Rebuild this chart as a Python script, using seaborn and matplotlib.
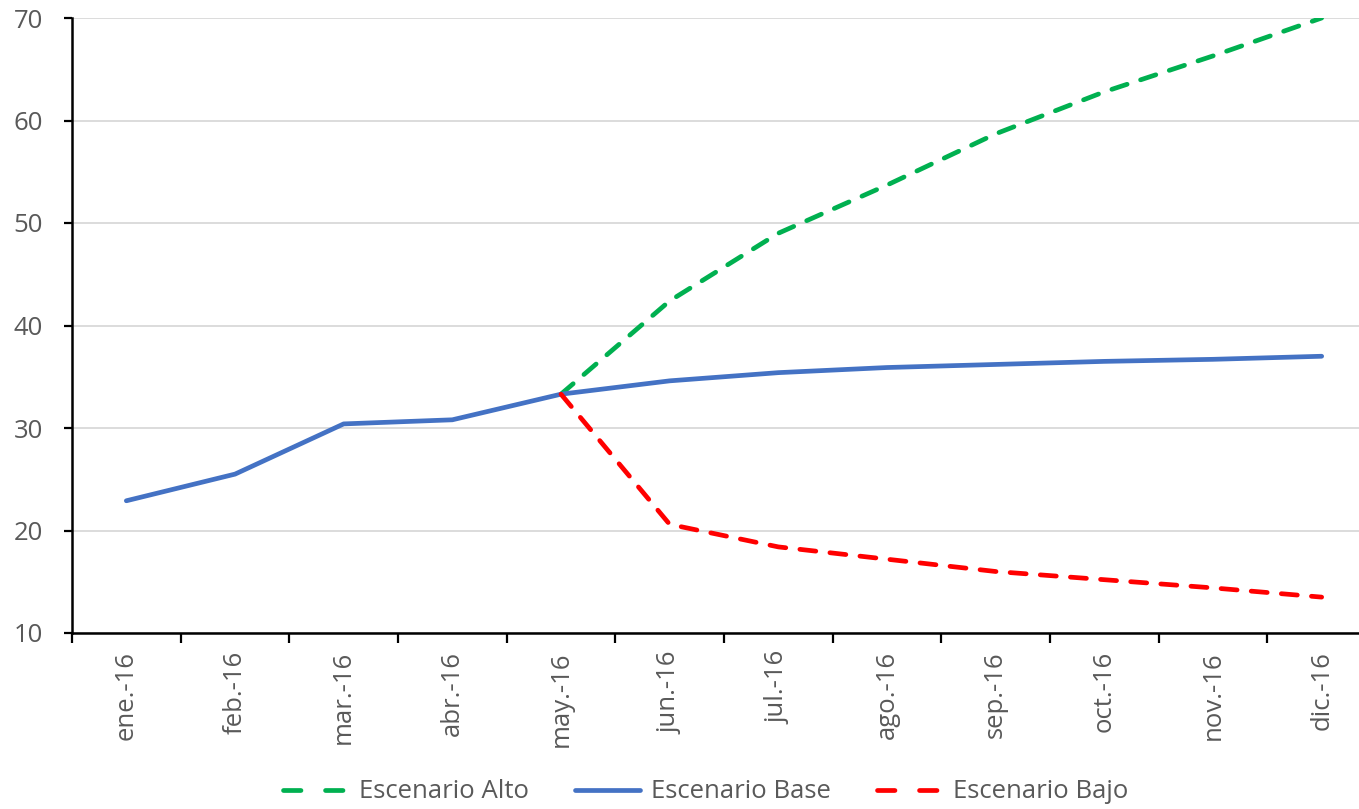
import matplotlib
matplotlib.use("Agg")
import matplotlib.pyplot as plt
import seaborn as sns
import numpy as np
import pandas as pd
from matplotlib.ticker import FixedLocator, NullFormatter
from matplotlib.lines import Line2D

months = ["ene.-16", "feb.-16", "mar.-16", "abr.-16", "may.-16", "jun.-16",
          "jul.-16", "ago.-16", "sep.-16", "oct.-16", "nov.-16", "dic.-16"]
alto = [np.nan, np.nan, np.nan, np.nan, 33.3, 42.4, 49.0, 53.7, 58.7, 62.8, 66.3, 70.0]
base = [22.9, 25.5, 30.4, 30.8, 33.3, 34.6, 35.4, 35.9, 36.2, 36.5, 36.7, 37.0]
bajo = [np.nan, np.nan, np.nan, np.nan, 33.3, 20.6, 18.4, 17.2, 16.0, 15.2, 14.4, 13.5]
series_names = ["Escenario Alto", "Escenario Base", "Escenario Bajo"]
colors = ["#00B050", "#4472C4", "#FF0000"]

rows = []
for name, vals in zip(series_names, [alto, base, bajo]):
    for i, v in enumerate(vals):
        rows.append({"pos": i, "mes": months[i], "serie": name, "valor": v})
df = pd.DataFrame(rows).dropna()

sns.set_theme(style="white")
plt.rcParams["font.family"] = ["Open Sans", "DejaVu Sans"]

fig = plt.figure(figsize=(13.59, 8.09), dpi=100)
W, H = 1359, 809
ax = fig.add_axes([72 / W, 1 - 633 / H, 1304 / W, (633 - 18) / H])

fs = 18.5
lw = 3.4
dash = (3.4, 3.0)
sns.lineplot(data=df, x="pos", y="valor", hue="serie", style="serie",
             hue_order=series_names, style_order=series_names,
             palette=dict(zip(series_names, colors)),
             dashes={"Escenario Alto": dash, "Escenario Base": "",
                     "Escenario Bajo": dash},
             linewidth=lw, sort=False, ax=ax, legend=False)
for ln in ax.lines:
    ln.set_dash_capstyle("round")
    ln.set_solid_capstyle("round")

ax.set_xlim(-0.5, len(months) - 0.5)
ax.set_ylim(10, 70)
ax.set_yticks(np.arange(10, 71, 10))
ax.set_xticks(range(len(months)))
ax.set_xticklabels(months, rotation=90)
ax.xaxis.set_minor_locator(FixedLocator(np.arange(-0.5, len(months), 1.0)))
ax.xaxis.set_minor_formatter(NullFormatter())
ax.tick_params(axis="x", which="major", length=0, pad=13, labelsize=fs, labelcolor="#595959")
ax.tick_params(axis="x", which="minor", length=7, width=1.6, color="black", direction="out", bottom=True)
ax.tick_params(axis="y", which="major", length=6, width=1.6, color="black", direction="out", left=True,
               labelsize=fs, labelcolor="#595959", pad=15)

ax.grid(axis="y", color="#D9D9D9", linewidth=1.3)
ax.grid(axis="x", visible=False)
ax.set_axisbelow(True)
for s in ["top", "right"]:
    ax.spines[s].set_visible(False)
for s in ["left", "bottom"]:
    ax.spines[s].set_color("black")
    ax.spines[s].set_linewidth(1.8)
ax.set_xlabel("")
ax.set_ylabel("")

handles = []
for name, c in zip(series_names, colors):
    if name == "Escenario Base":
        h = Line2D([], [], color=c, linewidth=lw, solid_capstyle="round")
    else:
        h = Line2D([], [], color=c, linewidth=lw, dashes=(3.7, 5.2), dash_capstyle="round")
    handles.append(h)
leg = fig.legend(handles, series_names, loc="center", bbox_to_anchor=(706 / W, 1 - 792 / H),
                 ncol=3, frameon=False, fontsize=fs, handlelength=2.5, columnspacing=1.8,
                 handletextpad=0.45)
for t in leg.get_texts():
    t.set_color("#595959")

fig.savefig("out.png", dpi=100)
